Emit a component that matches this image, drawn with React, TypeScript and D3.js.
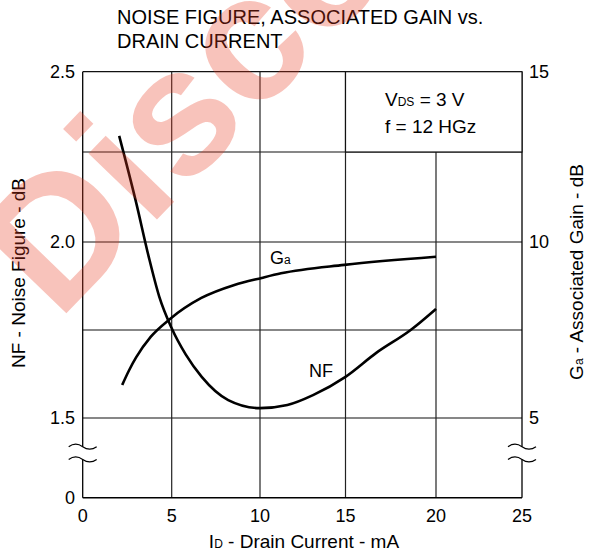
import * as React from 'react';
import * as d3 from 'd3';

// drain current (mA) axis
const currentTicks = [0, 5, 10, 15, 20, 25];
// left axis: noise figure (dB), with a break between 0 and 1.5
const nfTicks = [0, 1.5, 2.0, 2.5];
const nfTickLabels = ['0', '1.5', '2.0', '2.5'];
const nfGrid = [1.5, 1.75, 2.0, 2.25, 2.5];
// right axis: associated gain (dB)
const gaTicks = [5, 10, 15];

const nfCurrent = [2.05, 3.0, 3.7, 4.3, 5.0, 5.8, 6.7, 8.2, 10.0, 11.6, 13.1, 15.0, 16.7, 18.6, 20.0];
const nfValues = [2.3, 2.11, 1.96, 1.845, 1.755, 1.68, 1.617, 1.551, 1.528, 1.537, 1.565, 1.617, 1.685, 1.75, 1.81];

const gaCurrent = [2.22, 2.6, 3.0, 3.83, 4.87, 6.68, 8.55, 10.1, 11.23, 14.93, 20.0];
const gaValues = [5.94, 6.35, 6.72, 7.31, 7.8, 8.41, 8.78, 8.98, 9.11, 9.35, 9.58];

const width = 589;
const height = 557;
const font = '"Liberation Sans", Arial, sans-serif';

// scanned sheet: grid spacing not perfectly even, so piecewise scales
const x = d3.scaleLinear().domain(currentTicks).range([82.7, 171.7, 260, 345.5, 436, 522]);
const yNF = d3.scaleLinear().domain([0, 1.5, 2.0, 2.25, 2.5]).range([497.7, 418, 242, 152, 71.7]);
const yGa = d3.scaleLinear().domain([0, 5, 10, 12.5, 15]).range([497.7, 418, 242, 152, 71.7]);

const lineNF = d3.line<number>()
  .x((d, i) => x(nfCurrent[i]))
  .y(d => yNF(d))
  .curve(d3.curveMonotoneX);

const lineGa = d3.line<number>()
  .x((d, i) => x(gaCurrent[i]))
  .y(d => yGa(d))
  .curve(d3.curveMonotoneX);

function BreakMark({ cx, cy }: { cx: number; cy: number }) {
  return (
    <path d={`M${cx - 14},${cy} Q${cx - 7},${cy - 5} ${cx},${cy} T${cx + 14},${cy}`}
      fill="none" stroke="#000" strokeWidth={1.2} />
  );
}

export default function App() {
  const left = x(0), right = x(25);
  const top = yNF(2.5), bottom = yNF(0);
  const gap = yNF(1.5) + (bottom - yNF(1.5)) * 0.36;
  const gap2 = yNF(1.5) + (bottom - yNF(1.5)) * 0.52;

  return (
    <svg width={width} height={height} style={{ position: 'absolute', left: 0, top: 0, background: '#fff' }}
      fontFamily={font}>
      <rect width={width} height={height} fill="#fff" />

      {/* title */}
      <text x={117} y={24} fontSize={20}>NOISE FIGURE, ASSOCIATED GAIN vs.</text>
      <text x={117} y={48} fontSize={20}>DRAIN CURRENT</text>

      {/* grid */}
      {nfGrid.map(v => (
        <line key={'h' + v} x1={left} x2={right} y1={yNF(v)} y2={yNF(v)} stroke="#111" strokeWidth={1.2} />
      ))}
      {currentTicks.slice(1, -1).map(v => (
        <line key={'v' + v} x1={x(v)} x2={x(v)} y1={top} y2={bottom} stroke="#222" strokeWidth={1.2} />
      ))}
      <line x1={left} x2={right} y1={bottom} y2={bottom} stroke="#000" strokeWidth={1.5} />
      {[left, right].map(px => (
        <g key={'ax' + px}>
          <line x1={px} x2={px} y1={top} y2={gap} stroke="#000" strokeWidth={1.3} />
          <line x1={px} x2={px} y1={gap2} y2={bottom} stroke="#000" strokeWidth={1.3} />
          <BreakMark cx={px} cy={gap} />
          <BreakMark cx={px} cy={gap2} />
        </g>
      ))}

      {/* condition box */}
      <rect x={x(15)} y={yNF(2.5)} width={x(25) - x(15)} height={yNF(2.25) - yNF(2.5)}
        fill="#fff" stroke="#111" strokeWidth={1.2} />
      <text x={385} y={106} fontSize={19}>
        V<tspan fontSize={12}>DS</tspan> = 3 V
      </text>
      <text x={385} y={133} fontSize={19}>f = 12 HGz</text>

      {/* curves */}
      <path d={lineNF(nfValues) || ''} fill="none" stroke="#000" strokeWidth={2.6} />
      <path d={lineGa(gaValues) || ''} fill="none" stroke="#000" strokeWidth={2.6} />
      <text x={270} y={264} fontSize={18}>G<tspan fontSize={12}>a</tspan></text>
      <text x={309} y={377} fontSize={18}>NF</text>

      {/* left ticks */}
      {nfTicks.map((v, i) => (
        <text key={'l' + v} x={75} y={yNF(v) + 6} fontSize={18} textAnchor="end">{nfTickLabels[i]}</text>
      ))}
      {/* right ticks */}
      {gaTicks.map(v => (
        <text key={'r' + v} x={529} y={yGa(v) + 6} fontSize={18}>{v}</text>
      ))}
      {/* bottom ticks */}
      {currentTicks.map(v => (
        <text key={'b' + v} x={x(v)} y={522} fontSize={18} textAnchor="middle">{v}</text>
      ))}

      {/* axis titles */}
      <text x={304} y={548} fontSize={19} textAnchor="middle">
        I<tspan fontSize={12}>D</tspan> - Drain Current - mA
      </text>
      <text transform="translate(25,273) rotate(-90)" fontSize={19} textAnchor="middle">
        NF - Noise Figure - dB
      </text>
      <text transform="translate(583,272) rotate(-90)" fontSize={19} textAnchor="middle">
        G<tspan fontSize={12}>a</tspan> - Associated Gain - dB
      </text>

      {/* watermark */}
      <text transform="translate(58,322) rotate(-46)" fontSize={180} fontWeight="bold"
        fill="#e8391d" fillOpacity={0.3} style={{ pointerEvents: 'none' }}>
        Discontinued
      </text>
    </svg>
  );
}
